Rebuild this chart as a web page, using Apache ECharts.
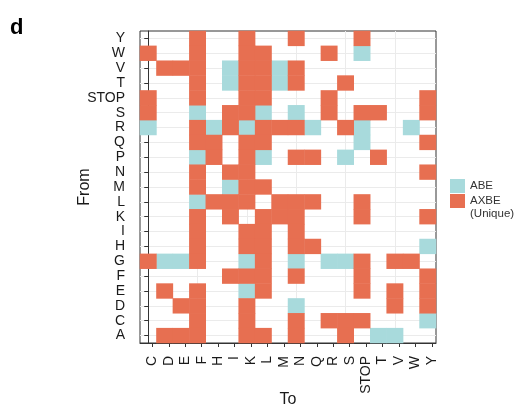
<!DOCTYPE html>
<html>
<head>
<meta charset="utf-8">
<script src="https://cdn.jsdelivr.net/npm/echarts@6/dist/echarts.min.js"></script>
<style>
  html, body { margin: 0; padding: 0; background: #fff; }
  #chart { width: 526px; height: 413px; }
</style>
</head>
<body>
<div id="chart"></div>
<script>
  // x: "To" residue, y: "From" residue (bottom to top)
  const toLabels = ["C", "D", "E", "F", "H", "I", "K", "L", "M", "N", "Q", "R", "S", "STOP", "T", "V", "W", "Y"];
  const fromLabels = ["A", "C", "D", "E", "F", "G", "H", "I", "K", "L", "M", "N", "P", "Q", "R", "S", "STOP", "T", "V", "W", "Y"];

  // cells reached by ABE, per "From" row
  const abeRows = [
    ["W", ["STOP"]],
    ["V", ["I", "M"]],
    ["T", ["I", "M"]],
    ["S", ["F", "L", "N"]],
    ["R", ["C", "H", "K", "Q", "STOP", "W"]],
    ["Q", ["STOP"]],
    ["P", ["F", "L", "S"]],
    ["M", ["I"]],
    ["L", ["F"]],
    ["H", ["Y"]],
    ["G", ["D", "E", "K", "N", "R", "S"]],
    ["E", ["K"]],
    ["D", ["N"]],
    ["C", ["Y"]],
    ["A", ["T", "V"]],
  ];

  // cells unique to AXBE, per "From" row
  const axbeRows = [
    ["Y", ["F", "K", "N", "STOP"]],
    ["W", ["C", "F", "K", "L", "R"]],
    ["V", ["D", "E", "F", "K", "L", "N"]],
    ["T", ["F", "K", "L", "N", "S"]],
    ["STOP", ["C", "F", "K", "L", "R", "Y"]],
    ["S", ["C", "I", "K", "R", "STOP", "T", "Y"]],
    ["R", ["F", "I", "L", "M", "N", "S"]],
    ["Q", ["F", "H", "K", "L", "Y"]],
    ["P", ["H", "K", "N", "Q", "T"]],
    ["N", ["F", "I", "K", "Y"]],
    ["M", ["F", "K", "L"]],
    ["L", ["H", "I", "K", "M", "N", "Q", "STOP"]],
    ["K", ["F", "I", "L", "M", "N", "STOP", "Y"]],
    ["I", ["F", "K", "L", "N"]],
    ["H", ["F", "K", "L", "N", "Q"]],
    ["G", ["C", "F", "L", "STOP", "V", "W"]],
    ["F", ["I", "K", "L", "N", "STOP", "Y"]],
    ["E", ["D", "F", "L", "STOP", "V", "Y"]],
    ["D", ["E", "F", "K", "V", "Y"]],
    ["C", ["F", "K", "N", "R", "S", "STOP"]],
    ["A", ["D", "E", "F", "K", "L", "N", "S"]],
  ];

  const C_ABE = "#A8DADC";
  const C_AXBE = "#E76F51";
  const INK = "#1a1a1a";
  const FONT = "'Liberation Sans', Arial, sans-serif";
  const TICK_SHIFT = 0.25; // x labels/ticks sit slightly right of tile centres in the original

  function cells(rows) {
    const out = [];
    rows.forEach(([from, tos]) => {
      tos.forEach((to) => out.push([toLabels.indexOf(to), fromLabels.indexOf(from), 1]));
    });
    return out;
  }

  const chart = echarts.init(document.getElementById("chart"), null, { renderer: "canvas" });
  chart.setOption({
    animation: false,
    title: {
      text: "d", left: 10, top: 17, padding: 0,
      textStyle: { fontFamily: FONT, fontSize: 22, fontWeight: "bold", color: "#000" },
    },
    legend: {
      orient: "vertical", left: 450, top: 179, padding: 0,
      icon: "rect", itemWidth: 15, itemHeight: 14, itemGap: -11.5,
      selectedMode: false,
      textStyle: { fontFamily: FONT, fontSize: 11.5, color: "#333", lineHeight: 13 },
      // blank first line keeps "AXBE" level with its swatch, "(Unique)" below
      formatter: (n) => (n === "AXBE" ? " \nAXBE\n(Unique)" : n),
      data: ["ABE", "AXBE"],
    },
    grid: {
      left: 140, right: 90, top: 31, bottom: 70,
      show: true, borderColor: "#333", borderWidth: 1, backgroundColor: "transparent",
    },
    xAxis: [
      {
        type: "category", data: toLabels,
        axisLine: { show: false }, axisTick: { show: false }, axisLabel: { show: false },
        splitLine: { show: true, alignWithLabel: true, lineStyle: { color: "#ebebeb", width: 1 } },
      },
      {
        type: "value", position: "bottom", min: -0.5, max: 17.5,
        name: "To", nameLocation: "middle", nameGap: 49, nameMoveOverlap: false,
        nameTextStyle: { fontFamily: FONT, fontSize: 16, color: INK },
        axisLine: { show: true, lineStyle: { color: "#333" } },
        axisTick: { show: true, length: 4, lineStyle: { color: "#333" },
          customValues: toLabels.map((_, i) => i + TICK_SHIFT) },
        axisLabel: {
          rotate: 90, margin: 13, fontFamily: FONT, fontSize: 14, color: INK,
          customValues: toLabels.map((_, i) => i + TICK_SHIFT),
          formatter: (v) => toLabels[Math.round(v - TICK_SHIFT)] || "",
        },
        splitLine: { show: false },
      },
    ],
    yAxis: {
      type: "category", data: fromLabels,
      name: "From", nameLocation: "middle", nameGap: 47, nameRotate: 90, nameMoveOverlap: false,
      nameTextStyle: { fontFamily: FONT, fontSize: 16, color: INK },
      axisLine: { show: true, lineStyle: { color: "#333" } },
      axisTick: { show: true, alignWithLabel: true, length: 4, lineStyle: { color: "#333" } },
      axisLabel: { interval: 0, margin: 15, fontFamily: FONT, fontSize: 14, color: INK },
      splitLine: { show: true, alignWithLabel: true, lineStyle: { color: "#ebebeb", width: 1 } },
    },
    series: [
      {
        name: "ABE", type: "heatmap", xAxisIndex: 0, yAxisIndex: 0,
        data: cells(abeRows),
        itemStyle: { color: C_ABE },
        emphasis: { disabled: true },
      },
      {
        name: "AXBE", type: "heatmap", xAxisIndex: 0, yAxisIndex: 0,
        data: cells(axbeRows),
        itemStyle: { color: C_AXBE },
        emphasis: { disabled: true },
      },
    ],
  });
</script>
</body>
</html>
